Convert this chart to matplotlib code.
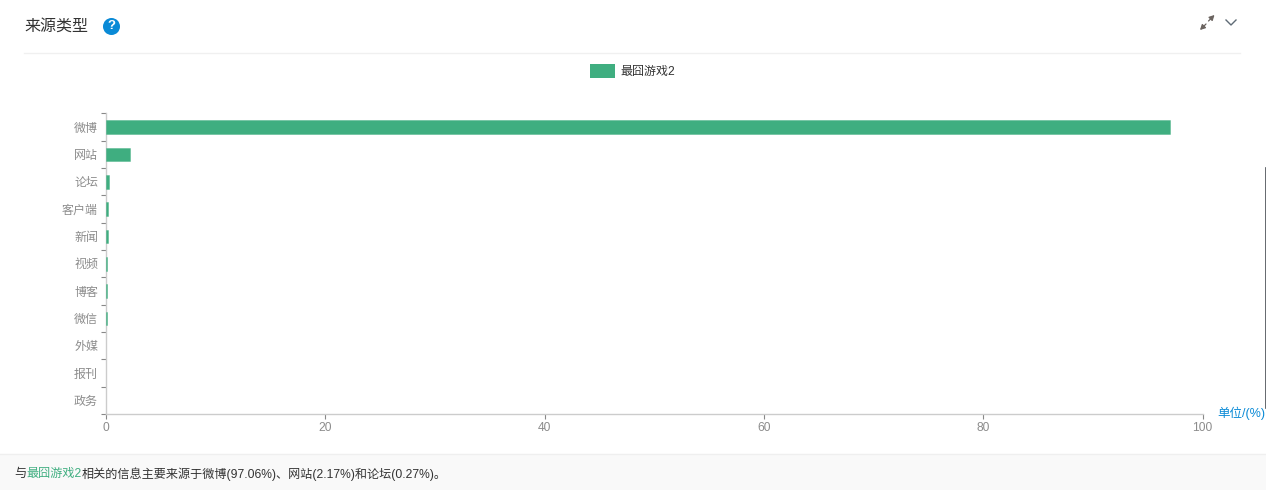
import matplotlib.pyplot as plt
from matplotlib.patches import Rectangle

plt.rcParams["font.family"] = ["Liberation Sans", "Noto Sans CJK SC"]

categories = ["微博", "网站", "论坛", "客户端", "新闻", "视频", "博客", "微信", "外媒", "报刊", "政务"]
values = [97.06, 2.17, 0.27, 0.22, 0.19, 0.13, 0.07, 0.06, 0, 0, 0]
x_ticks = [0, 20, 40, 60, 80, 100]
series_name = "最囧游戏2"
title = "来源类型"
unit_label = "单位/(%)"
summary_parts = [
    ("与", "#333333"),
    (series_name, "#3fae80"),
    ("相关的信息主要来源于微博(97.06%)、网站(2.17%)和论坛(0.27%)。", "#333333"),
]

W, H = 1266, 490
GREEN = "#3fae80"
GREY = "#8c8c8c"
PX = 0.72  # px to pt at dpi 100

fig = plt.figure(figsize=(W / 100, H / 100), dpi=100)

# overlay in pixel coordinates for the page furniture
page = fig.add_axes([0, 0, 1, 1], zorder=0)
page.set_xlim(0, W)
page.set_ylim(H, 0)
page.axis("off")

page.add_patch(Rectangle((0, 454.5), W, 35.5, fc="#f9f9f9", ec="none"))
page.plot([0, W], [454, 454], color="#efefef", lw=1)
page.plot([24, 1240], [53, 53], color="#f0f0f0", lw=1)
page.plot([1265.5, 1265.5], [168, 408], color="#4a4f55", lw=1.2)

page.text(24, 26.5, title, fontsize=16 * PX, color="#333333", va="center")
page.scatter([111], [26], s=150, color="#0a8ad6", lw=0)
page.text(111, 26, "?", fontsize=13 * PX, color="white", weight="bold", ha="center", va="center")

# expand icon
arrow = dict(arrowstyle="-|>,head_width=0.16,head_length=0.3", color="#6b6460", lw=0.9, shrinkA=0, shrinkB=0)
page.annotate("", xy=(1214.5, 15), xytext=(1208.5, 21), arrowprops=arrow)
page.annotate("", xy=(1200, 30), xytext=(1206, 24), arrowprops=arrow)
# collapse chevron
page.plot([1226, 1231, 1236], [20, 25, 20], color="#5f6b76", lw=1)

# legend
page.add_patch(Rectangle((590, 64), 25, 14, fc=GREEN, ec="none"))
page.text(620, 71.5, series_name, fontsize=12 * PX, color="#333333", va="center")

# chart
x0, x1, y0, y1 = 106, 1202.5, 113.5, 414
ax = fig.add_axes([x0 / W, 1 - y1 / H, (x1 - x0) / W, (y1 - y0) / H], zorder=1)
ax.patch.set_alpha(0)
positions = list(range(len(categories)))
edges = ["#3fae8066" if v else "none" for v in values]
ax.barh(positions, values, height=0.5, color=GREEN, edgecolor=edges, linewidth=0.7, zorder=3)
ax.set_xlim(0, 100)
ax.set_ylim(len(categories) - 0.5, -0.5)

ax.set_xticks(x_ticks)
ax.set_yticks([p - 0.5 for p in positions] + [len(categories) - 0.5])
ax.set_yticklabels([])
ax.set_yticks(positions, minor=True)
ax.set_yticklabels(categories, minor=True)
ax.tick_params(axis="y", which="major", length=5 * PX, width=0.8, color="#888888")
ax.tick_params(axis="y", which="minor", length=0, pad=5.7, labelsize=12 * PX, labelcolor=GREY)
ax.tick_params(axis="x", length=5 * PX, width=0.8, color="#888888", pad=2.5, labelsize=12 * PX, labelcolor=GREY)

for side in ("top", "right"):
    ax.spines[side].set_visible(False)
for side in ("left", "bottom"):
    ax.spines[side].set_color("#cccccc")
    ax.spines[side].set_linewidth(1)

page.text(1217.5, 413.5, unit_label, fontsize=12.5 * PX, color="#0a8ad6", va="center")

# summary line, pieces chained by their measured widths
renderer = fig.canvas.get_renderer()
x = 14
for text, color in summary_parts:
    piece = page.text(x, 474, text, fontsize=12.1 * PX, color=color, va="center")
    x += piece.get_window_extent(renderer).width

fig.savefig("out.png", dpi=100)
